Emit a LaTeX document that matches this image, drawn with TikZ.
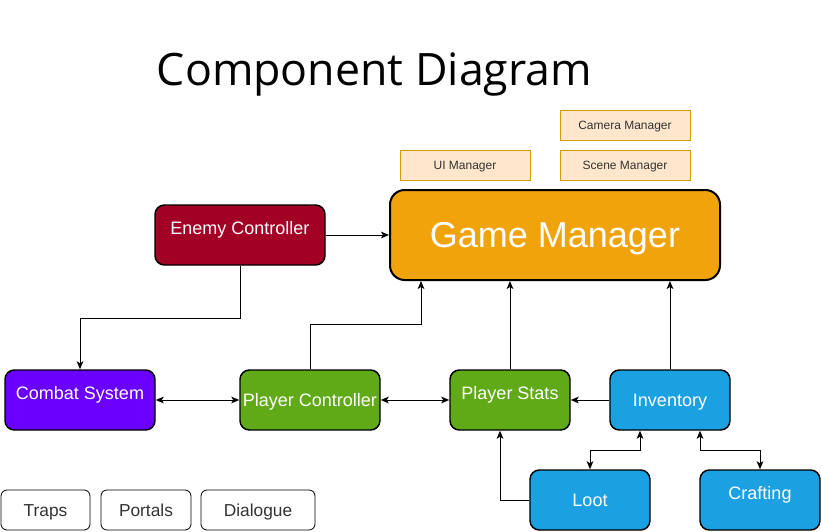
\documentclass[tikz,border=0pt]{standalone}
\usepackage{fontspec}
\setmainfont{Liberation Sans}
\newfontfamily\titlefont{Open Sans}
\usetikzlibrary{arrows.meta}
\definecolor{gmfill}{HTML}{F0A30A}
\definecolor{ecfill}{HTML}{A20025}
\definecolor{csfill}{HTML}{6A00FF}
\definecolor{grfill}{HTML}{60A917}
\definecolor{blfill}{HTML}{1BA1E2}
\definecolor{mgfill}{HTML}{FFE6CC}
\definecolor{mgdraw}{HTML}{D79B00}
\definecolor{txtgray}{HTML}{333333}
\tikzset{
  comp/.style={draw=black, line width=1.1pt, rounded corners=7pt, inner sep=0pt,
    text=white, font=\fontsize{13.5pt}{16pt}\selectfont, text height=9.7pt, text depth=0pt,
    minimum height=45pt, minimum width=90pt},
  mgr/.style={draw=mgdraw, fill=mgfill, line width=0.75pt, inner sep=0pt,
    text=txtgray, font=\fontsize{9pt}{11pt}\selectfont, text height=6.5pt, text depth=0pt,
    minimum width=97.5pt, minimum height=22.5pt},
  misc/.style={draw=black, line width=0.6pt, rounded corners=4.5pt, inner sep=0pt,
    text=txtgray, font=\fontsize{13pt}{15pt}\selectfont, text height=9.4pt, text depth=0pt,
    minimum height=30pt},
  conn/.style={line width=0.75pt, -{Stealth[length=6pt,width=5pt,inset=1.5pt]}},
  bconn/.style={line width=0.75pt, {Stealth[length=6pt,width=5pt,inset=1.5pt]}-{Stealth[length=6pt,width=5pt,inset=1.5pt]}}
}
\begin{document}
\begin{tikzpicture}[x=0.75pt,y=-0.75pt]
\useasboundingbox (0,0) rectangle (822,532);
\node[anchor=base, font=\titlefont\fontsize{33.5pt}{40pt}\selectfont] (title) at (374.5,85) {Component Diagram};

\node[mgr] (cam) at (625,125) {Camera Manager};
\node[mgr] (ui) at (465,165) {UI Manager};
\node[mgr] (scene) at (625,165) {Scene Manager};

\node[comp, fill=gmfill, line width=1.5pt, rounded corners=11pt, minimum width=247.5pt, minimum height=67.5pt,
  font=\fontsize{27pt}{32pt}\selectfont, text height=19.4pt] (gm) at (555,235) {Game Manager};
\node[comp, fill=ecfill, minimum width=127.5pt] (ec) at (240,235) {\raisebox{5.5pt}{Enemy Controller}};
\node[comp, fill=csfill, minimum width=112.5pt] (cs) at (80,400) {\raisebox{5.5pt}{Combat System}};
\node[comp, fill=grfill, minimum width=105pt] (pc) at (310,400) {Player Controller};
\node[comp, fill=grfill] (ps) at (510,400) {\raisebox{5.5pt}{Player Stats}};
\node[comp, fill=blfill] (inv) at (670,400) {Inventory};
\node[comp, fill=blfill] (loot) at (590,500) {Loot};
\node[comp, fill=blfill] (craft) at (760,500) {\raisebox{5.5pt}{Crafting}};

\node[misc, minimum width=66.75pt] (traps) at (45.5,510) {Traps};
\node[misc, minimum width=67.5pt] (portals) at (146,510) {Portals};
\node[misc, minimum width=85.5pt] (dialogue) at (258,510) {Dialogue};

\draw[conn] (ec) -- (gm);
\draw[conn] (ec.south) -- ++(0,53) -| (cs.north);
\draw[bconn] (cs) -- (pc);
\draw[bconn] (pc) -- (ps);
\draw[conn] (pc.north) -- ++(0,-45) -| ([xshift=24pt]gm.south west);
\draw[conn] (ps.north) -- (ps.north |- gm.south);
\draw[conn] (inv.north) -- (inv.north |- gm.south);
\draw[conn] (inv) -- (ps);
\draw[conn] (loot.west) -| ([xshift=-7.5pt]ps.south);
\draw[bconn] ([xshift=-22.5pt]inv.south) -- ++(0,20) -| (loot.north);
\draw[bconn] ([xshift=22.5pt]inv.south) -- ++(0,20) -| (craft.north);
\end{tikzpicture}
\end{document}
